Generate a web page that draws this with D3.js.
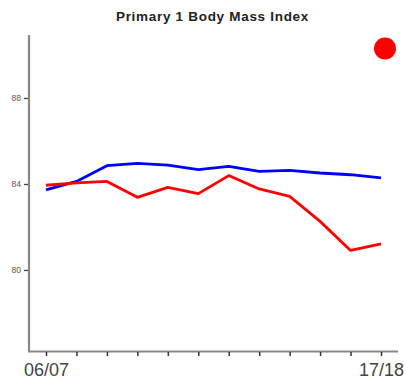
<!DOCTYPE html>
<html><head><meta charset="utf-8">
<script src="https://cdn.jsdelivr.net/npm/d3@7"></script>
<style>body{margin:0;background:#fff}svg{display:block}</style>
</head><body>
<script>
const years = ["06/07","07/08","08/09","09/10","10/11","11/12","12/13","13/14","14/15","15/16","16/17","17/18"];
const blueSeries = [83.73,84.12,84.85,84.96,84.88,84.67,84.82,84.59,84.63,84.51,84.43,84.28];
const redSeries = [83.94,84.05,84.12,83.38,83.84,83.55,84.39,83.77,83.42,82.26,80.91,81.21];
const yTicks = [80,84,88];
const xLabels = ["06/07","17/18"];

const W=405,H=385;
const svg=d3.select("body").append("svg").attr("width",W).attr("height",H);
const x=d3.scalePoint().domain(years).range([46,381]);
const y=d3.scaleLinear().domain([76.23,90.93]).range([351,35]);

svg.append("text").attr("x",212.5).attr("y",21).attr("text-anchor","middle")
  .attr("font-family","Liberation Sans, Arial, sans-serif").attr("font-weight","bold")
  .attr("font-size",13.5).attr("letter-spacing","0.7px").attr("fill","#222").text("Primary 1 Body Mass Index");

// axes lines
svg.append("line").attr("x1",29).attr("x2",29).attr("y1",35).attr("y2",352).attr("stroke","#888").attr("stroke-width",2.2);
svg.append("line").attr("x1",28).attr("x2",398).attr("y1",351.5).attr("y2",351.5).attr("stroke","#888").attr("stroke-width",2.2);

const ya=svg.append("g").attr("transform","translate(28,0)")
  .call(d3.axisLeft(y).tickValues(yTicks).tickSize(4).tickPadding(3).tickFormat(d3.format("d")));
ya.select(".domain").remove();
ya.selectAll("line").attr("stroke","#444").attr("stroke-width",1.3);
ya.selectAll("text").attr("font-family","Liberation Sans, Arial, sans-serif").attr("font-size",8.5).attr("fill","#555");

const xa=svg.append("g").attr("transform","translate(0,352)")
  .call(d3.axisBottom(x).tickSize(4).tickPadding(7).tickFormat(d=>xLabels.includes(d)?d:""));
xa.select(".domain").remove();
xa.selectAll("line").attr("stroke","#333").attr("stroke-width",1.5);
xa.selectAll("text").attr("font-family","Liberation Sans, Arial, sans-serif").attr("font-size",18).attr("fill","#444");

const line=d3.line().x((d,i)=>x(years[i])).y(d=>y(d));
svg.append("path").datum(blueSeries).attr("d",line).attr("fill","none").attr("stroke","#0000ff").attr("stroke-width",2.8).attr("stroke-linejoin","round");
svg.append("path").datum(redSeries).attr("d",line).attr("fill","none").attr("stroke","#ff0000").attr("stroke-width",2.8).attr("stroke-linejoin","round");

svg.append("circle").attr("cx",385).attr("cy",48.5).attr("r",11).attr("fill","#ff0000");
</script>
</body></html>
